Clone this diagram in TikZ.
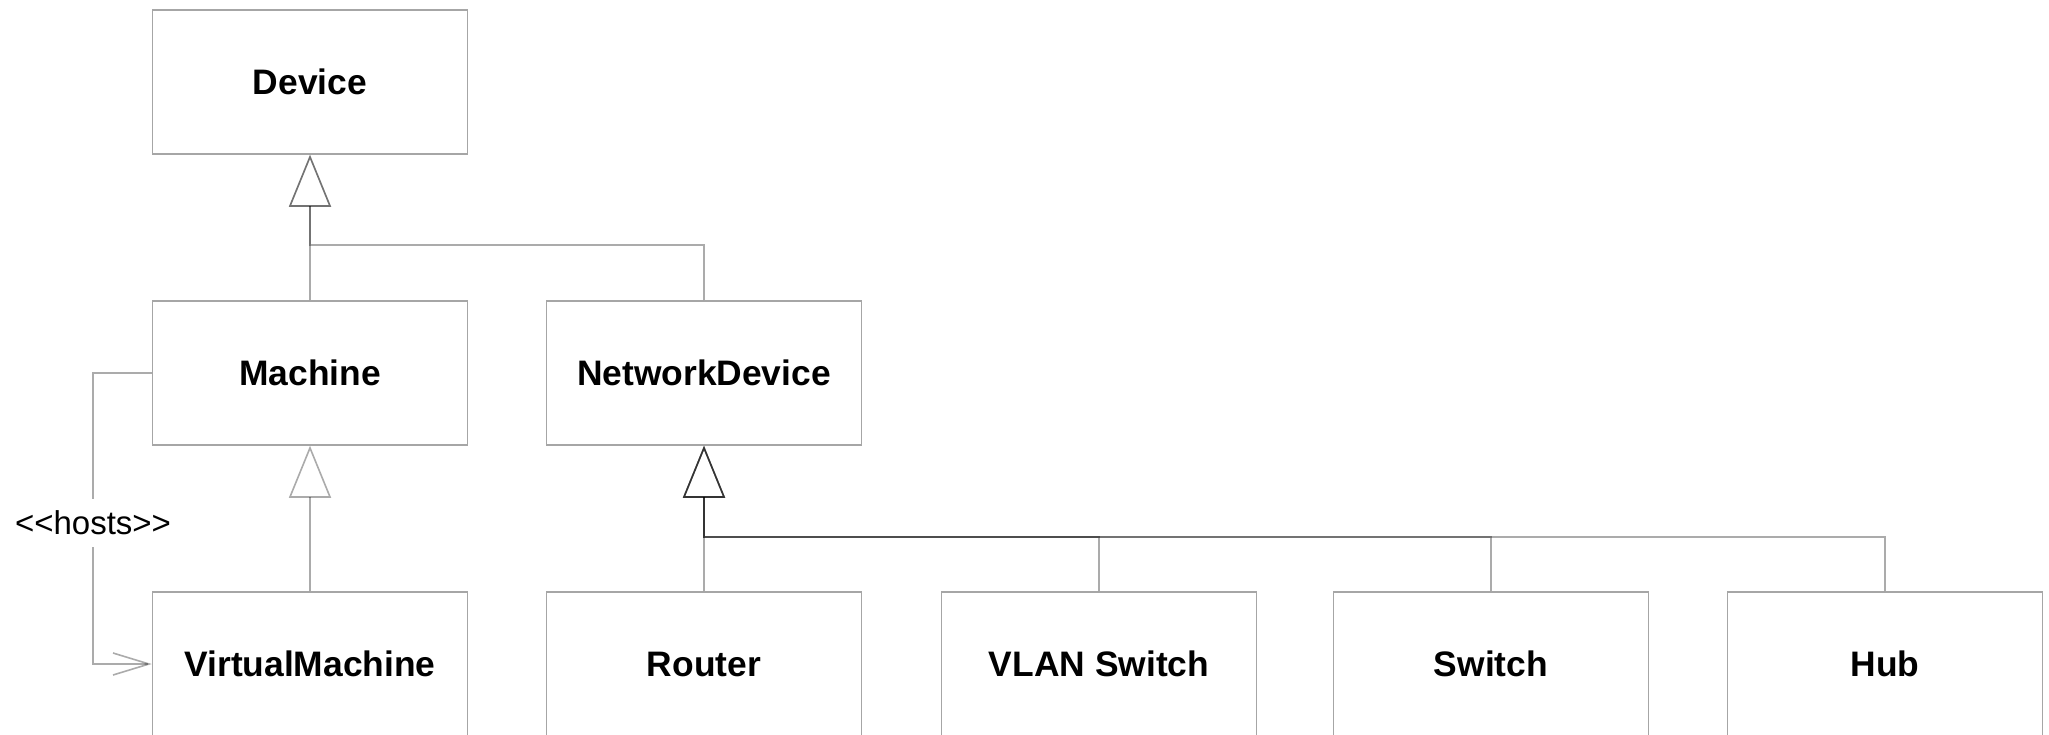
\documentclass[tikz,border=0pt]{standalone}
\usepackage{fontspec}
\setmainfont{Liberation Sans}
\newfontfamily\plainsans{Liberation Sans}
\usetikzlibrary{arrows.meta}
\begin{document}
\begin{tikzpicture}[x=0.5pt,y=-0.5pt,
  cls/.style={draw=black!35, line width=0.75pt, rectangle, minimum width=157.5pt, minimum height=72pt, inner sep=0pt,
    font=\fontsize{17.7}{20}\selectfont\bfseries},
  gen/.style={draw=black, draw opacity=0.33, line width=0.8pt, -{Triangle[open, length=26pt, width=21pt]}},
  dep/.style={draw=black, draw opacity=0.33, line width=0.8pt, -{Straight Barb[length=18pt, width=11pt, line width=0.8pt]}},
  hostlbl/.style={fill=white, inner xsep=1pt, inner ysep=6pt, font=\plainsans\fontsize{16.5}{19}\selectfont}]
\useasboundingbox (0,0) rectangle (2049,734);
% classes
\node[cls] (dev) at (310,82) {Device};
\node[cls] (mach) at (310,373) {Machine};
\node[cls] (nd) at (704,373) {NetworkDevice};
\node[cls] (vm) at (310,664) {VirtualMachine};
\node[cls] (router) at (704,664) {Router};
\node[cls] (vlan) at (1099,664) {VLAN Switch};
\node[cls] (sw) at (1491,664) {Switch};
\node[cls] (hub) at (1885,664) {Hub};
% junction points
\coordinate (j1) at (310,245);
\coordinate (j2) at (704,537);
\coordinate (h1) at (93,373);
\coordinate (h2) at (93,664);
% generalizations to Device
\draw[gen] (mach.north) -- (dev.south);
\draw[gen] (nd.north) |- (j1) -- (dev.south);
% generalization to Machine
\draw[gen] (vm.north) -- (mach.south);
% generalizations to NetworkDevice
\draw[gen] (router.north) -- (nd.south);
\draw[gen] (vlan.north) |- (j2) -- (nd.south);
\draw[gen] (sw.north) |- (j2) -- (nd.south);
\draw[gen] (hub.north) |- (j2) -- (nd.south);
% hosts dependency
\draw[dep] (mach.west) -- (h1) -- node[hostlbl, pos=0.515] (hl) {<<hosts>>} (h2) -- (vm.west);
\end{tikzpicture}
\end{document}
